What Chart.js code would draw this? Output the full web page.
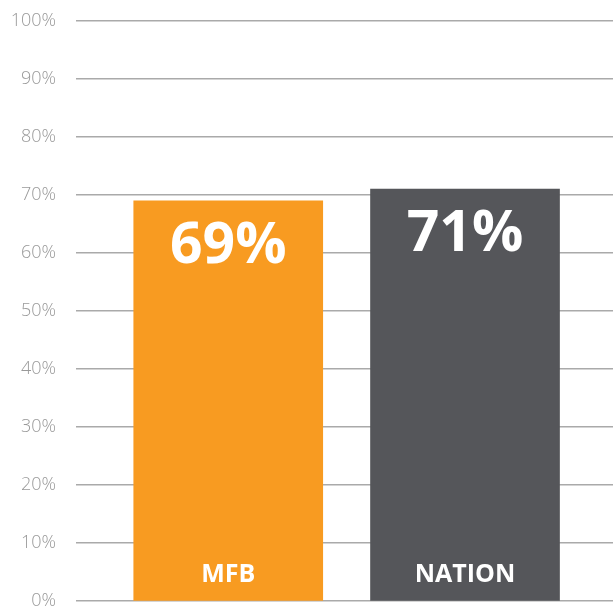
<!DOCTYPE html>
<html>
<head>
<meta charset="utf-8">
<script src="https://cdn.jsdelivr.net/npm/chart.js@4/dist/chart.umd.min.js"></script>
<style>
  html, body { margin: 0; padding: 0; background: #fff; overflow: hidden; }
  #wrap { width: 613px; height: 642px; margin-top: -10px; }
</style>
</head>
<body>
<div id="wrap"><canvas id="chart"></canvas></div>
<script>
// DADOS
const categories = ["MFB", "NATION"];
const values = [69, 71];
const barColors = ["#f89b21", "#55565a"];

// RÓTULOS DENTRO DAS BARRAS
const barLabels = {
    id: "barLabels",
    afterDatasetsDraw(chart) {
        const ctx = chart.ctx;
        const meta = chart.getDatasetMeta(0);
        const bottom = chart.scales.y.getPixelForValue(0);
        ctx.save();
        ctx.fillStyle = "#ffffff";
        ctx.textAlign = "center";
        ctx.textBaseline = "middle";
        meta.data.forEach((bar, i) => {
            ctx.font = "bold 57px 'Open Sans'";
            ctx.fillText(values[i] + "%", bar.x, bar.y + 46);
            ctx.font = "bold 25px 'Open Sans'";
            ctx.fillText(categories[i], bar.x, bottom - 26);
        });
        ctx.restore();
    }
};

// GRÁFICO
new Chart(document.getElementById("chart"), {
    type: "bar",
    data: {
        datasets: [{
            data: values.map((v, i) => ({ x: i, y: v })),
            backgroundColor: barColors,
            barThickness: 189
        }]
    },
    options: {
        responsive: true,
        maintainAspectRatio: false,
        animation: false,
        layout: { padding: { top: 0, bottom: 12, left: 0, right: 0 } },
        plugins: { legend: { display: false }, tooltip: { enabled: false } },
        scales: {
            x: {
                type: "linear",
                display: false,
                offset: false,
                min: -0.643,
                max: 1.625
            },
            y: {
                min: 0,
                max: 100,
                border: { display: false },
                grid: { color: "#aaaaaa", lineWidth: 1.5, drawTicks: false },
                afterFit: scale => { scale.width = 76; },
                ticks: {
                    stepSize: 10,
                    padding: 20,
                    color: "#999999",
                    font: { family: "'Open Sans'", size: 18, weight: 300 },
                    callback: v => v + "%"
                }
            }
        }
    },
    plugins: [barLabels]
});
</script>
</body>
</html>
